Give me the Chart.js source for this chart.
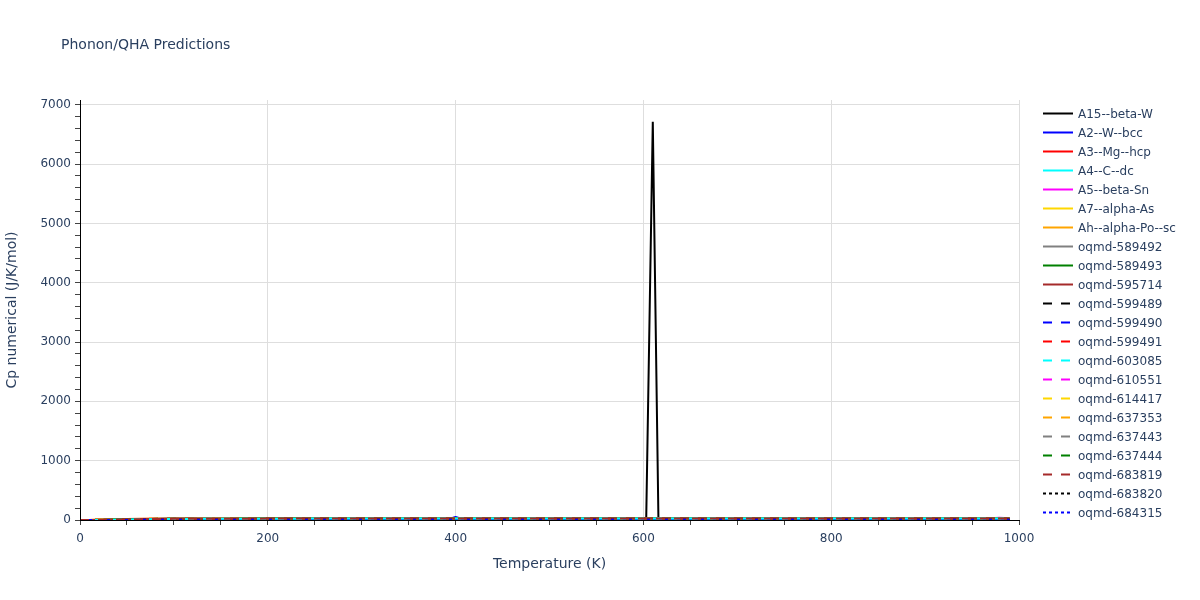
<!DOCTYPE html>
<html>
<head>
<meta charset="utf-8">
<script src="https://cdn.jsdelivr.net/npm/chart.js@4.4.1/dist/chart.umd.min.js"></script>
<style>
  body { margin: 0; background: #fff; font-family: Verdana, "DejaVu Sans", sans-serif; color: #2a3f5f; }
  #wrap { position: relative; width: 1200px; height: 600px; }
  #title { position: absolute; left: 61px; top: 36px; font-size: 14px; line-height: 17px; }
  #legend { position: absolute; left: 1043px; top: 104px; font-size: 12px; }
  .row { height: 19px; display: flex; align-items: center; white-space: nowrap; }
  .row svg { width: 30px; height: 19px; margin-right: 5px; flex: none; }
</style>
</head>
<body>
<div id="wrap">
  <canvas id="chart" width="1200" height="600"></canvas>
  <div id="title">Phonon/QHA Predictions</div>
  <div id="legend"></div>
</div>
<script>
const FONT = 'Verdana, "DejaVu Sans", sans-serif';
const TEXT = '#2a3f5f';

// tick labels
const xLabelTicks = [0, 200, 400, 600, 800, 1000];
const yLabelTicks = [0, 1000, 2000, 3000, 4000, 5000, 6000, 7000];

// temperatures (K)
const temps = [0, 10, 25, 50, 75, 100, 150, 200, 300, 400, 500, 600, 700, 800, 900, 990];
const tempsA15 = [0, 10, 25, 50, 75, 100, 150, 200, 300, 400, 500, 600, 603, 610, 616, 700, 800, 900, 990];
const tempsA2 = [0, 10, 25, 50, 75, 100, 150, 200, 300, 395, 400, 405, 500, 600, 700, 800, 900, 990];
const tempsA5 = [0, 10, 25, 50, 75, 100, 150, 200, 300, 400, 500, 600, 700, 800, 900, 970, 979, 990];

// Cp numerical (J/K/mol)
const cpA15 = [0, 0.2, 2.5, 10, 15.5, 18.8, 21.8, 23.2, 24.3, 24.8, 25.1, 25.4, 25.4, 6715, 25.5, 25.7, 26, 26.3, 26.6];
const cpA2 = [0, 0.1, 1.6, 8.5, 14.6, 18.1, 21.4, 22.9, 24.2, 24.8, 50, 24.9, 25.2, 25.6, 26, 26.4, 26.9, 27.3];
const cpA3 = [0, 0.2, 2.4, 11, 16.2, 19.2, 22, 23.3, 24.4, 24.9, 25.3, 25.7, 26.1, 26.5, 27, 27.4];
const cpA4 = [0, 0, 0.1, 0.4, 1.1, 2.2, 4.8, 7.9, 12.4, 15.6, 17.8, 19.3, 20.4, 21.2, 21.8, 22.3];
const cpA5 = [0, 1.2, 8, 16.5, 20.2, 22, 23.6, 24.5, 25.6, 26.4, 27.1, 27.8, 28.4, 29, 29.6, 30, 40, 30.2];
const cpA7 = [0, 0.8, 6.5, 15.2, 19.4, 21.4, 23.2, 23.9, 24.6, 25, 25.3, 25.6, 25.9, 26.2, 26.5, 26.8];
const cpAh = [0, 1, 7.2, 16, 20, 21.9, 23.5, 24.2, 24.8, 25.2, 25.5, 25.8, 26.1, 26.4, 26.7, 27];
const cp589492 = [0, 0.3, 3.2, 12.1, 17, 19.8, 22.4, 23.5, 24.4, 24.8, 25.1, 25.3, 25.5, 25.7, 25.9, 26.1];
const cp589493 = [0, 0.5, 4.6, 13.6, 18.1, 20.6, 22.8, 23.7, 24.5, 24.9, 25.2, 25.4, 25.6, 25.8, 26, 26.2];
const cp595714 = [0, 0.4, 3.9, 12.9, 17.6, 20.2, 22.6, 23.6, 24.5, 24.9, 25.2, 25.5, 25.8, 26.1, 26.4, 26.7];
const cp599489 = [0, 0.2, 2.8, 11.6, 16.6, 19.5, 22.2, 23.4, 24.4, 24.8, 25.1, 25.4, 25.7, 26, 26.3, 26.6];
const cp599490 = [0, 0.3, 3.5, 12.4, 17.3, 20, 22.5, 23.5, 24.4, 24.8, 25.2, 25.5, 25.8, 26.1, 26.4, 26.7];
const cp599491 = [0, 0.6, 5.3, 14.2, 18.6, 20.9, 23, 23.8, 24.5, 24.9, 25.2, 25.5, 25.8, 26.1, 26.3, 26.6];
const cp603085 = [0, 0.1, 1.2, 7.4, 13.6, 17.4, 21, 22.6, 24.1, 24.7, 25.1, 25.5, 25.9, 26.3, 26.7, 27.1];
const cp610551 = [0, 0.9, 6.8, 15.6, 19.7, 21.6, 23.3, 24.1, 24.8, 25.3, 25.8, 26.3, 26.8, 27.3, 27.8, 28.3];
const cp614417 = [0, 0.7, 6.1, 14.9, 19.1, 21.2, 23.1, 23.9, 24.6, 25, 25.3, 25.6, 25.9, 26.2, 26.5, 26.8];
const cp637353 = [0, 1.1, 7.6, 16.2, 20.1, 22, 23.5, 24.2, 24.8, 25.1, 25.4, 25.7, 26, 26.3, 26.6, 26.9];
const cp637443 = [0, 0.4, 4.1, 13.2, 17.8, 20.4, 22.7, 23.6, 24.4, 24.8, 25.1, 25.4, 25.6, 25.8, 26, 26.2];
const cp637444 = [0, 0.5, 4.8, 13.8, 18.3, 20.7, 22.9, 23.7, 24.5, 24.9, 25.2, 25.5, 25.7, 25.9, 26.1, 26.3];
const cp683819 = [0, 0.2, 2.2, 10.4, 15.8, 19, 21.9, 23.2, 24.3, 24.8, 25.2, 25.6, 26, 26.4, 26.8, 27.2];
const cp683820 = [0, 0.1, 0.6, 2, 3, 3.6, 4.2, 4.5, 4.8, 5, 5.1, 5.2, 5.3, 5.4, 5.5, 5.6];
const cp684315 = [0, 0.1, 0.5, 1.9, 2.9, 3.5, 4.1, 4.4, 4.7, 4.9, 5, 5.1, 5.2, 5.3, 5.4, 5.5];

const series = [
  ["A15--beta-W", "black", "solid", tempsA15, cpA15],
  ["A2--W--bcc", "blue", "solid", tempsA2, cpA2],
  ["A3--Mg--hcp", "red", "solid", temps, cpA3],
  ["A4--C--dc", "cyan", "solid", temps, cpA4],
  ["A5--beta-Sn", "magenta", "solid", tempsA5, cpA5],
  ["A7--alpha-As", "gold", "solid", temps, cpA7],
  ["Ah--alpha-Po--sc", "orange", "solid", temps, cpAh],
  ["oqmd-589492", "gray", "solid", temps, cp589492],
  ["oqmd-589493", "green", "solid", temps, cp589493],
  ["oqmd-595714", "brown", "solid", temps, cp595714],
  ["oqmd-599489", "black", "dash", temps, cp599489],
  ["oqmd-599490", "blue", "dash", temps, cp599490],
  ["oqmd-599491", "red", "dash", temps, cp599491],
  ["oqmd-603085", "cyan", "dash", temps, cp603085],
  ["oqmd-610551", "magenta", "dash", temps, cp610551],
  ["oqmd-614417", "gold", "dash", temps, cp614417],
  ["oqmd-637353", "orange", "dash", temps, cp637353],
  ["oqmd-637443", "gray", "dash", temps, cp637443],
  ["oqmd-637444", "green", "dash", temps, cp637444],
  ["oqmd-683819", "brown", "dash", temps, cp683819],
  ["oqmd-683820", "black", "dot", temps, cp683820],
  ["oqmd-684315", "blue", "dot", temps, cp684315]
];

const dashes = { solid: [], dash: [9, 9], dot: [3, 3] };

// draw the near-zero cyan / brown dashed pair last so the baseline reads like the original
const topOrder = { "oqmd-683819": -2, "oqmd-603085": -1 };

const datasets = series.map(([name, color, dash, xs, ys], i) => ({
  label: name,
  data: xs.map((t, k) => ({ x: t, y: ys[k] })),
  borderColor: color,
  backgroundColor: color,
  borderDash: dashes[dash],
  borderDashOffset: name === "oqmd-683819" ? 0 : 3,
  borderWidth: 2,
  pointRadius: 0,
  fill: false,
  tension: 0,
  borderJoinStyle: 'bevel',
  order: topOrder[name] !== undefined ? topOrder[name] : series.length - i
}));

// legend
const legend = document.getElementById("legend");
series.forEach(([name, color, dash]) => {
  legend.innerHTML += `
    <div class="row">
      <svg viewBox="0 0 30 19"><line x1="0" y1="9.5" x2="30" y2="9.5" stroke="${color}" stroke-width="2"
        stroke-dasharray="${dashes[dash].join(',') || 'none'}"/></svg>
      <span>${name}</span>
    </div>`;
});

const gridColor = '#dedede';

new Chart(document.getElementById("chart"), {
  type: 'line',
  data: { datasets },
  options: {
    responsive: false,
    animation: false,
    layout: { padding: { top: 100, right: 181, left: 0, bottom: 0 } },
    plugins: { legend: { display: false }, tooltip: { enabled: false } },
    scales: {
      x: {
        type: 'linear',
        min: 0, max: 1000,
        afterFit: s => { s.height = 80; },
        ticks: {
          stepSize: 50, autoSkip: false, maxRotation: 0, padding: 7,
          color: TEXT, font: { family: FONT, size: 12 },
          callback: v => xLabelTicks.includes(Math.round(v)) ? String(Math.round(v)) : ''
        },
        grid: {
          color: c => c.tick && xLabelTicks.includes(Math.round(c.tick.value)) ? gridColor : 'rgba(0,0,0,0)',
          tickColor: '#444', tickLength: 5
        },
        border: { color: '#000', width: 1, z: 1 },
        title: { display: true, text: 'Temperature (K)', color: TEXT, font: { family: FONT, size: 14 }, padding: { bottom: 27 } }
      },
      y: {
        min: 0, max: 7080,
        afterFit: s => { s.width = 80; },
        afterBuildTicks: s => {
          // minor ticks every 200 up to the last labelled value
          const ticks = [];
          for (let v = 0; v <= 7000; v += 200) ticks.push({ value: v });
          s.ticks = ticks;
        },
        ticks: {
          autoSkip: false, padding: 4,
          color: TEXT, font: { family: FONT, size: 12 },
          callback: v => yLabelTicks.includes(Math.round(v)) ? String(Math.round(v)) : ''
        },
        grid: {
          color: c => c.tick && yLabelTicks.includes(Math.round(c.tick.value)) ? gridColor : 'rgba(0,0,0,0)',
          tickColor: '#444', tickLength: 5
        },
        border: { color: '#000', width: 1, z: 1 },
        title: { display: true, text: 'Cp numerical (J/K/mol)', color: TEXT, font: { family: FONT, size: 14 }, padding: { top: 4 } }
      }
    }
  }
});
</script>
</body>
</html>
